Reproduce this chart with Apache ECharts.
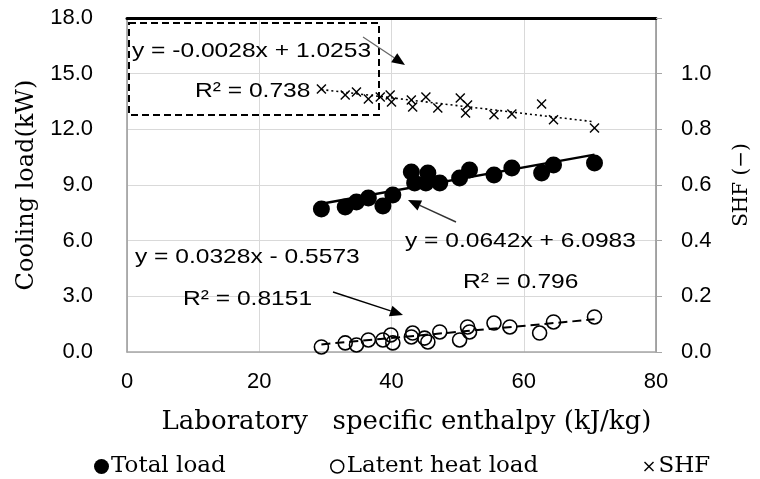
<!DOCTYPE html>
<html><head><meta charset="utf-8">
<script src="https://cdn.jsdelivr.net/npm/echarts/dist/echarts.min.js"></script>
<style>html,body{margin:0;padding:0;background:#fff}#c{width:760px;height:479px}</style>
</head><body><div id="c"></div>
<script>
// ---- data ----
const enthalpyTotal = [29.4, 33.0, 34.7, 36.5, 38.7, 40.2, 43.0, 43.5, 45.5, 45.2, 47.3, 50.3, 51.8, 55.5, 58.2, 62.7, 64.5, 70.7];
const totalLoad     = [7.71, 7.81, 8.08, 8.30, 7.87, 8.46, 9.70, 9.11, 9.65, 9.11, 9.11, 9.38, 9.81, 9.54, 9.92, 9.65, 10.08, 10.19];
const enthalpyLatent = [29.4, 33.0, 34.7, 36.5, 38.7, 39.9, 40.2, 43.0, 43.2, 45.0, 45.5, 47.3, 50.3, 51.5, 51.8, 55.5, 57.9, 62.4, 64.5, 70.7];
const latentLoad     = [0.27, 0.49, 0.38, 0.65, 0.65, 0.92, 0.49, 0.81, 1.02, 0.75, 0.54, 1.08, 0.65, 1.35, 1.08, 1.56, 1.35, 1.02, 1.62, 1.89];
const enthalpyShf = [29.4, 33.0, 34.7, 36.5, 38.3, 39.8, 40.0, 43.0, 43.2, 45.2, 47.0, 50.4, 51.5, 51.2, 55.5, 58.2, 62.7, 64.5, 70.7];
const shfValues   = [0.945, 0.923, 0.934, 0.909, 0.916, 0.923, 0.898, 0.905, 0.880, 0.916, 0.877, 0.913, 0.887, 0.859, 0.852, 0.855, 0.891, 0.834, 0.805];
const trendX      = [29.4, 70.7];
const trendTotal  = [7.99, 10.64];
const trendLatent = [0.41, 1.76];
const trendShf    = [0.943, 0.827];
const eqShf    = ['y = -0.0028x + 1.0253', 'R² = 0.738'];
const eqTotal  = ['y = 0.0642x + 6.0983', 'R² = 0.796'];
const eqLatent = ['y = 0.0328x - 0.5573', 'R² = 0.8151'];
const names = ['Total load', 'Latent heat load', 'SHF'];

const zip = (a, b) => a.map((v, i) => [v, b[i]]);
const xPath = 'path://M1,0 L5,4 L9,0 L10,1 L6,5 L10,9 L9,10 L5,6 L1,10 L0,9 L4,5 L0,1 Z';
const sans = '"Liberation Sans", Arial, sans-serif';
const serif = '"DejaVu Serif", serif';

function label(text, x, y) {
  return { type: 'text', x: x, y: y, scaleX: 1.17, z: 10,
    style: { text: text, font: '21px ' + sans, fill: '#000', align: 'left', verticalAlign: 'middle' } };
}
function arrow(x1, y1, x2, y2, color, w) {
  const a = Math.atan2(y2 - y1, x2 - x1), L = 13, W = 5.5;
  const bx = x2 - L * Math.cos(a), by = y2 - L * Math.sin(a);
  const px = -Math.sin(a), py = Math.cos(a);
  return [
    { type: 'line', z: 10, shape: { x1: x1, y1: y1, x2: bx, y2: by }, style: { stroke: color, lineWidth: w } },
    { type: 'polygon', z: 10, shape: { points: [[x2, y2], [bx + W * px, by + W * py], [bx - W * px, by - W * py]] }, style: { fill: '#000' } }
  ];
}

const chart = echarts.init(document.getElementById('c'), null, { renderer: 'canvas' });
chart.setOption({
  animation: false,
  backgroundColor: '#fff',
  grid: { left: 127, right: 100, top: 18, bottom: 127 },
  xAxis: [{
    type: 'value', min: 0, max: 80, interval: 20,
    axisLine: { onZero: false, lineStyle: { color: '#a6a6a6', width: 1.5 } },
    axisTick: { show: false },
    axisLabel: { fontSize: 22, color: '#000', fontFamily: sans, margin: 19 },
    splitLine: { lineStyle: { color: '#d9d9d9', width: 1 } },
    name: 'Laboratory   specific enthalpy (kJ/kg)', nameLocation: 'middle', nameGap: 57,
    nameTextStyle: { fontFamily: serif, fontSize: 26, color: '#000', padding: [0, 0, 0, 30] }
  }, {
    type: 'value', min: 0, max: 80, position: 'top',
    axisLine: { onZero: false, lineStyle: { color: '#000', width: 3 } },
    axisTick: { show: false }, axisLabel: { show: false }, splitLine: { show: false }
  }],
  yAxis: [{
    type: 'value', min: 0, max: 18, interval: 3,
    axisLine: { show: true, onZero: false, lineStyle: { color: '#999', width: 1.5 } },
    axisTick: { show: false },
    axisLabel: { fontSize: 22, color: '#000', fontFamily: sans, margin: 34, formatter: v => v.toFixed(1) },
    splitLine: { lineStyle: { color: '#d9d9d9', width: 1 } },
    name: 'Cooling load(kW)', nameLocation: 'middle', nameRotate: 90, nameGap: 88,
    nameTextStyle: { fontFamily: serif, fontSize: 24, color: '#000' }
  }, {
    type: 'value', min: 0, max: 1.2, interval: 0.2, position: 'right',
    axisLine: { show: true, onZero: false, lineStyle: { color: '#8c8c8c', width: 1.5 } },
    axisTick: { show: true, length: 6, lineStyle: { color: '#a6a6a6' } },
    axisLabel: { fontSize: 22, color: '#000', fontFamily: sans, margin: 25,
      formatter: v => (v > 1.1 ? '' : v.toFixed(1)) },
    splitLine: { show: false },
    name: 'SHF (−)', nameLocation: 'middle', nameRotate: 90, nameGap: 76,
    nameTextStyle: { fontFamily: serif, fontSize: 20, color: '#000' }
  }],
  legend: [
    { left: 89, top: 450, itemWidth: 15, itemHeight: 15, itemGap: 0,
      textStyle: { fontFamily: serif, fontSize: 23, color: '#000', padding: [0, 0, 0, -3] },
      data: [{ name: names[0], icon: 'circle', itemStyle: { color: '#000', opacity: 1 } }] },
    { left: 325, top: 450, itemWidth: 15, itemHeight: 13,
      textStyle: { fontFamily: serif, fontSize: 23, color: '#000', padding: [0, 0, 0, -3] },
      data: [{ name: names[1], icon: 'circle', itemStyle: { color: '#fff', borderColor: '#000', borderWidth: 1.5, opacity: 1 } }] },
    { left: 639, top: 450, itemWidth: 13, itemHeight: 10,
      textStyle: { fontFamily: serif, fontSize: 23, color: '#000', padding: [0, 0, 0, -2] },
      data: [{ name: names[2], icon: xPath, itemStyle: { color: '#000', opacity: 1 } }] }
  ],
  series: [
    { name: names[0], type: 'scatter', data: zip(enthalpyTotal, totalLoad), symbol: 'circle', symbolSize: 17,
      itemStyle: { color: '#000', opacity: 1 }, z: 4 },
    { type: 'line', data: zip(trendX, trendTotal), showSymbol: false, silent: true,
      lineStyle: { color: '#000', width: 2.4 }, z: 3 },
    { name: names[1], type: 'scatter', data: zip(enthalpyLatent, latentLoad), symbol: 'circle', symbolSize: 14,
      itemStyle: { color: 'rgba(0,0,0,0)', borderColor: '#000', borderWidth: 1.6, opacity: 1 }, z: 4 },
    { type: 'line', data: zip(trendX, trendLatent), showSymbol: false, silent: true,
      lineStyle: { color: '#000', width: 2, type: [9, 5] }, z: 3 },
    { name: names[2], type: 'scatter', yAxisIndex: 1, data: zip(enthalpyShf, shfValues), symbol: xPath, symbolSize: 10,
      itemStyle: { color: '#000', opacity: 1 }, z: 4 },
    { type: 'line', yAxisIndex: 1, data: zip(trendX, trendShf), showSymbol: false, silent: true,
      lineStyle: { color: '#000', width: 1.6, type: [2, 3] }, z: 3 }
  ],
  graphic: [
    { type: 'rect', z: 9, shape: { x: 129, y: 23, width: 250, height: 92 },
      style: { fill: 'none', stroke: '#000', lineWidth: 2, lineDash: [7, 4] } },
    label(eqShf[0], 132, 51),
    label(eqShf[1], 195, 91),
    label(eqTotal[0], 405, 241),
    label(eqTotal[1], 463, 282),
    label(eqLatent[0], 135, 257),
    label(eqLatent[1], 183, 299),
    ...arrow(363, 37, 405, 65, '#666', 1.2),
    ...arrow(456, 222, 408, 200, '#333', 1.4),
    ...arrow(333, 292, 403, 315, '#000', 1.4)
  ]
});
</script>
</body></html>
